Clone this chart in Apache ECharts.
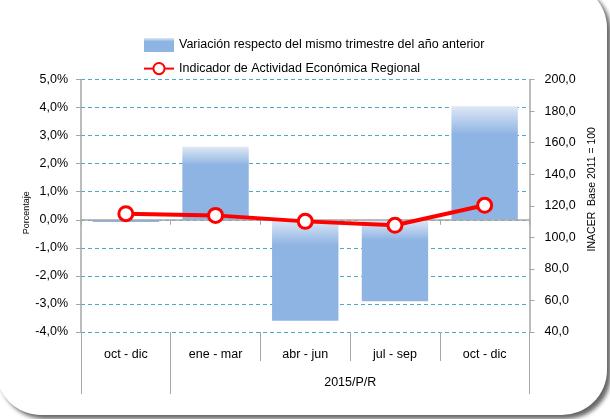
<!DOCTYPE html>
<html>
<head>
<meta charset="utf-8">
<script src="https://cdn.jsdelivr.net/npm/echarts@6/dist/echarts.min.js"></script>
<style>
html,body{margin:0;padding:0;background:#fff;}
#chart{width:610px;height:419px;}
</style>
</head>
<body>
<div id="chart"></div>
<script>
const categories = ['oct - dic', 'ene - mar', 'abr - jun', 'jul - sep', 'oct - dic'];
const variation = [-0.08, 2.6, -3.6, -2.9, 4.05];
const inacer = [115.0, 113.9, 110.1, 107.6, 120.3];
const groupLabels = ['2015/P/R'];
const seriesNames = ['Variación respecto del mismo trimestre del año anterior', 'Indicador de Actividad Económica Regional'];

const FONT = '"Liberation Sans Narrow", "Arial Narrow", "Liberation Sans", Arial, sans-serif';
const AXIS_GRAY = '#a6a6a6';
const chart = echarts.init(document.getElementById('chart'), null, {renderer: 'canvas'});

const barGradient = new echarts.graphic.LinearGradient(0, 0, 0, 1, [
  {offset: 0, color: '#dfe8f5'},
  {offset: 0.25, color: '#8eb4e3'},
  {offset: 1, color: '#8eb4e3'}
]);

const option = {
  animation: false,
  backgroundColor: '#ffffff',
  textStyle: {fontFamily: FONT},
  graphic: [{
    type: 'rect', z: -10, silent: true,
    shape: {x: -4, y: -17, width: 611, height: 432, r: 45},
    style: {fill: '#ffffff', stroke: 'none',
      shadowColor: 'rgba(0,0,0,0.6)', shadowBlur: 4, shadowOffsetX: 4, shadowOffsetY: 4}
  }],
  legend: {
    orient: 'vertical', left: 138, top: 33, itemGap: 10,
    itemWidth: 30, itemHeight: 14,
    textStyle: {fontFamily: FONT, fontSize: 12.5, color: '#000'},
    data: [
      {name: seriesNames[0], icon: 'rect', itemStyle: {color: barGradient}},
      {name: seriesNames[1]}
    ]
  },
  grid: [
    {left: 81, right: 80.5, top: 79.5, bottom: 87},
    {left: 171, right: 80.5, top: 79.5, bottom: 87}
  ],
  xAxis: [
    {
      type: 'category', data: categories, gridIndex: 0, position: 'bottom',
      axisLine: {show: true, onZero: true, lineStyle: {color: AXIS_GRAY, width: 1.5}},
      axisTick: {show: true, length: 5, lineStyle: {color: AXIS_GRAY}},
      axisLabel: {show: false}, splitLine: {show: false}, z: 5
    },
    {
      type: 'category', data: categories, gridIndex: 0, position: 'bottom',
      axisLine: {show: false, onZero: false},
      axisTick: {show: true, length: 29, lineStyle: {color: AXIS_GRAY}},
      axisLabel: {show: true, margin: 16, fontFamily: FONT, fontSize: 12.5, color: '#000', interval: 0},
      splitLine: {show: false}
    },
    {
      type: 'category', data: categories, gridIndex: 0, position: 'bottom',
      axisLine: {show: false, onZero: false},
      axisTick: {show: true, length: 62, interval: function (idx) { return idx <= 1; }, lineStyle: {color: AXIS_GRAY}},
      axisLabel: {show: false}, splitLine: {show: false}
    },
    {
      type: 'category', data: groupLabels, gridIndex: 1, position: 'bottom',
      axisLine: {show: false, onZero: false}, axisTick: {show: false},
      axisLabel: {show: true, margin: 44, fontFamily: FONT, fontSize: 12.5, color: '#000'},
      splitLine: {show: false}
    }
  ],
  yAxis: [
    {
      type: 'value', gridIndex: 0, position: 'left', min: -4, max: 5, interval: 1,
      name: 'Porcentaje', nameLocation: 'middle', nameGap: 50, nameRotate: 90, nameMoveOverlap: false,
      nameTextStyle: {fontFamily: FONT, fontSize: 9, color: '#000', padding: [0, 14, 0, 0]},
      axisLine: {show: true, lineStyle: {color: AXIS_GRAY, width: 1.5}},
      axisTick: {show: true, length: 5, lineStyle: {color: AXIS_GRAY}},
      axisLabel: {margin: 13, fontFamily: FONT, fontSize: 12.5, color: '#000',
        formatter: v => v.toFixed(1).replace('.', ',') + '%'},
      splitLine: {show: true, lineStyle: {color: '#4bacc6', type: [4, 3], width: 1}}
    },
    {
      type: 'value', gridIndex: 0, position: 'right', min: 40, max: 200, interval: 20,
      name: 'INACER  Base 2011 = 100', nameLocation: 'middle', nameGap: 56, nameRotate: 90,
      nameTextStyle: {fontFamily: FONT, fontSize: 10.5, color: '#000', padding: [0, 0, 0, 33]},
      axisLine: {show: true, lineStyle: {color: AXIS_GRAY, width: 1.5}},
      axisTick: {show: true, length: 5, lineStyle: {color: AXIS_GRAY}},
      axisLabel: {margin: 15, fontFamily: FONT, fontSize: 12.5, color: '#000',
        formatter: v => v.toFixed(1).replace('.', ',')},
      splitLine: {show: false}
    },
    {
      type: 'value', gridIndex: 1, show: false
    }
  ],
  series: [
    {
      name: seriesNames[0], type: 'bar', xAxisIndex: 0, yAxisIndex: 0,
      data: variation, barCategoryGap: '26%',
      itemStyle: {color: barGradient}, z: 2
    },
    {
      name: seriesNames[1], type: 'line', xAxisIndex: 0, yAxisIndex: 1,
      data: inacer, symbol: 'circle', symbolSize: 14,
      lineStyle: {color: '#ff0000', width: 4},
      itemStyle: {color: '#ffffff', borderColor: '#ff0000', borderWidth: 3},
      z: 10
    }
  ]
};
chart.setOption(option);
</script>
</body>
</html>
